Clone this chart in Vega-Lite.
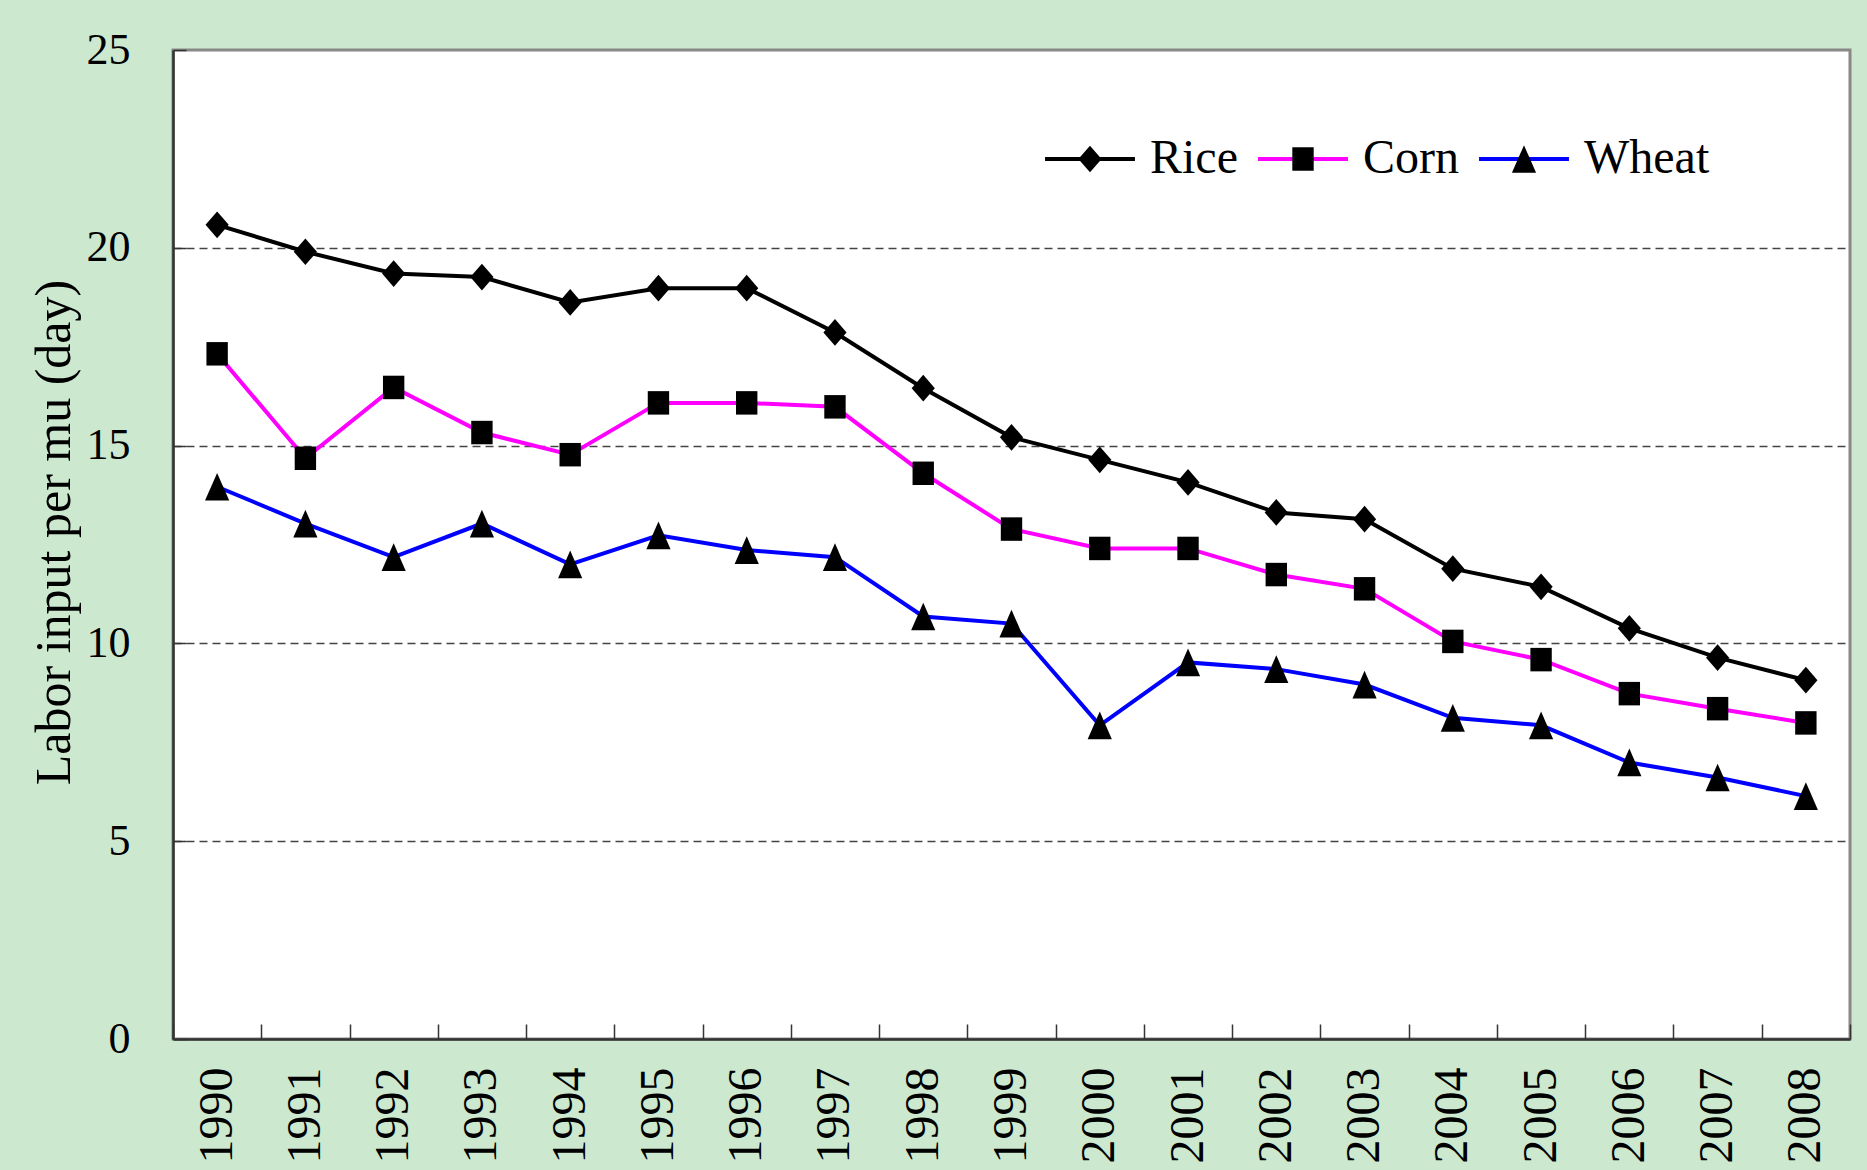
{
  "$schema": "https://vega.github.io/schema/vega-lite/v6.json",
  "width": 1677,
  "height": 989,
  "autosize": "none",
  "padding": {"left": 173, "top": 50, "right": 17, "bottom": 131},
  "background": "#cce8cf",
  "config": {
    "view": {"fill": "white", "stroke": "#888888", "strokeWidth": 3},
    "font": "Liberation Serif"
  },
  "data": {
    "values": [
      {"year": "1990", "crop": "Rice", "value": 20.58},
      {"year": "1991", "crop": "Rice", "value": 19.9},
      {"year": "1992", "crop": "Rice", "value": 19.35},
      {"year": "1993", "crop": "Rice", "value": 19.26},
      {"year": "1994", "crop": "Rice", "value": 18.62},
      {"year": "1995", "crop": "Rice", "value": 18.98},
      {"year": "1996", "crop": "Rice", "value": 18.98},
      {"year": "1997", "crop": "Rice", "value": 17.86},
      {"year": "1998", "crop": "Rice", "value": 16.45},
      {"year": "1999", "crop": "Rice", "value": 15.21},
      {"year": "2000", "crop": "Rice", "value": 14.64},
      {"year": "2001", "crop": "Rice", "value": 14.07},
      {"year": "2002", "crop": "Rice", "value": 13.31},
      {"year": "2003", "crop": "Rice", "value": 13.14},
      {"year": "2004", "crop": "Rice", "value": 11.89},
      {"year": "2005", "crop": "Rice", "value": 11.43},
      {"year": "2006", "crop": "Rice", "value": 10.38},
      {"year": "2007", "crop": "Rice", "value": 9.64},
      {"year": "2008", "crop": "Rice", "value": 9.07},
      {"year": "1990", "crop": "Corn", "value": 17.32},
      {"year": "1991", "crop": "Corn", "value": 14.68},
      {"year": "1992", "crop": "Corn", "value": 16.47},
      {"year": "1993", "crop": "Corn", "value": 15.33},
      {"year": "1994", "crop": "Corn", "value": 14.77},
      {"year": "1995", "crop": "Corn", "value": 16.08},
      {"year": "1996", "crop": "Corn", "value": 16.08},
      {"year": "1997", "crop": "Corn", "value": 15.98},
      {"year": "1998", "crop": "Corn", "value": 14.3},
      {"year": "1999", "crop": "Corn", "value": 12.89},
      {"year": "2000", "crop": "Corn", "value": 12.4},
      {"year": "2001", "crop": "Corn", "value": 12.4},
      {"year": "2002", "crop": "Corn", "value": 11.74},
      {"year": "2003", "crop": "Corn", "value": 11.38},
      {"year": "2004", "crop": "Corn", "value": 10.05},
      {"year": "2005", "crop": "Corn", "value": 9.59},
      {"year": "2006", "crop": "Corn", "value": 8.73},
      {"year": "2007", "crop": "Corn", "value": 8.35},
      {"year": "2008", "crop": "Corn", "value": 7.99},
      {"year": "1990", "crop": "Wheat", "value": 13.96},
      {"year": "1991", "crop": "Wheat", "value": 13.03},
      {"year": "1992", "crop": "Wheat", "value": 12.18},
      {"year": "1993", "crop": "Wheat", "value": 13.03},
      {"year": "1994", "crop": "Wheat", "value": 12.0},
      {"year": "1995", "crop": "Wheat", "value": 12.73},
      {"year": "1996", "crop": "Wheat", "value": 12.36},
      {"year": "1997", "crop": "Wheat", "value": 12.18},
      {"year": "1998", "crop": "Wheat", "value": 10.68},
      {"year": "1999", "crop": "Wheat", "value": 10.5},
      {"year": "2000", "crop": "Wheat", "value": 7.93},
      {"year": "2001", "crop": "Wheat", "value": 9.52},
      {"year": "2002", "crop": "Wheat", "value": 9.35},
      {"year": "2003", "crop": "Wheat", "value": 8.96},
      {"year": "2004", "crop": "Wheat", "value": 8.12},
      {"year": "2005", "crop": "Wheat", "value": 7.93},
      {"year": "2006", "crop": "Wheat", "value": 6.99},
      {"year": "2007", "crop": "Wheat", "value": 6.61},
      {"year": "2008", "crop": "Wheat", "value": 6.14}
    ]
  },
  "encoding": {
    "x": {
      "field": "year",
      "type": "ordinal",
      "scale": {"type": "band", "paddingInner": 0, "paddingOuter": 0},
      "axis": {
        "title": null,
        "tickBand": "extent",
        "tickSize": -15,
        "tickColor": "#333333",
        "tickWidth": 1.5,
        "domainColor": "#333333",
        "domainWidth": 2.5,
        "labelAngle": 270,
        "labelFont": "Liberation Serif",
        "labelFontSize": 48,
        "labelColor": "black",
        "labelPadding": 43,
        "grid": false
      }
    },
    "y": {
      "field": "value",
      "type": "quantitative",
      "scale": {"domain": [0, 25], "nice": false},
      "axis": {
        "title": "Labor input per mu (day)",
        "values": [0, 5, 10, 15, 20, 25],
        "tickSize": -13,
        "tickColor": "#333333",
        "tickWidth": 1.5,
        "domainColor": "#333333",
        "domainWidth": 2.5,
        "labelFont": "Liberation Serif",
        "labelFontSize": 44,
        "labelColor": "black",
        "labelPadding": 56,
        "grid": true,
        "gridDash": [8, 5],
        "gridColor": "#444444",
        "gridWidth": 1.5,
        "gridOpacity": {"condition": {"test": "datum.value === 0 || datum.value === 25", "value": 0}, "value": 1},
        "titleFont": "Liberation Serif",
        "titleFontSize": 50,
        "titleFontWeight": "normal",
        "titleColor": "black",
        "titleAngle": 270,
        "titleAlign": "center",
        "titleBaseline": "middle",
        "titleX": -119,
        "titleY": 482
      }
    }
  },
  "layer": [
    {
      "mark": {"type": "line", "strokeWidth": 4},
      "encoding": {
        "color": {
          "field": "crop",
          "type": "nominal",
          "scale": {"domain": ["Rice", "Corn", "Wheat"], "range": ["#000000", "#ff00ff", "#0000ff"]},
          "legend": {
            "orient": "none",
            "legendX": 870,
            "legendY": 85,
            "direction": "horizontal",
            "title": null,
            "padding": 0,
            "symbolType": "M-3.18,-1.11M3.18,1.11M-3.18,0H3.18",
            "symbolSize": 800,
            "symbolStrokeWidth": 4,
            "symbolFillColor": "transparent",
            "symbolOffset": 23,
            "labelFont": "Liberation Serif",
            "labelFontSize": 48,
            "labelOpacity": 0,
            "labelOffset": 36,
            "columnPadding": 12
          }
        }
      }
    },
    {
      "mark": {"type": "point", "filled": true, "opacity": 1, "size": 800, "color": "black", "strokeWidth": 0},
      "encoding": {
        "shape": {
          "field": "crop",
          "type": "nominal",
          "sort": ["Rice", "Corn", "Wheat"],
          "scale": {"range": [
            "M-3.18,-1.11M3.18,1.11M0,-0.945L0.82,0L0,0.945L-0.82,0Z",
            "M-3.18,-1.11M3.18,1.11M-0.756,-0.83H0.756V0.83H-0.756Z",
            "M-3.18,-1.11M3.18,1.11M0,-0.98L0.855,0.98H-0.855Z"
          ]},
          "legend": {
            "orient": "none",
            "legendX": 870,
            "legendY": 85,
            "direction": "horizontal",
            "title": null,
            "padding": 0,
            "symbolSize": 800,
            "symbolStrokeWidth": 4,
            "symbolFillColor": "black",
            "symbolStrokeColor": "transparent",
            "symbolOffset": 23,
            "labelFont": "Liberation Serif",
            "labelFontSize": 48,
            "labelColor": "black",
            "labelOffset": 36,
            "columnPadding": 12
          }
        }
      }
    }
  ]
}
